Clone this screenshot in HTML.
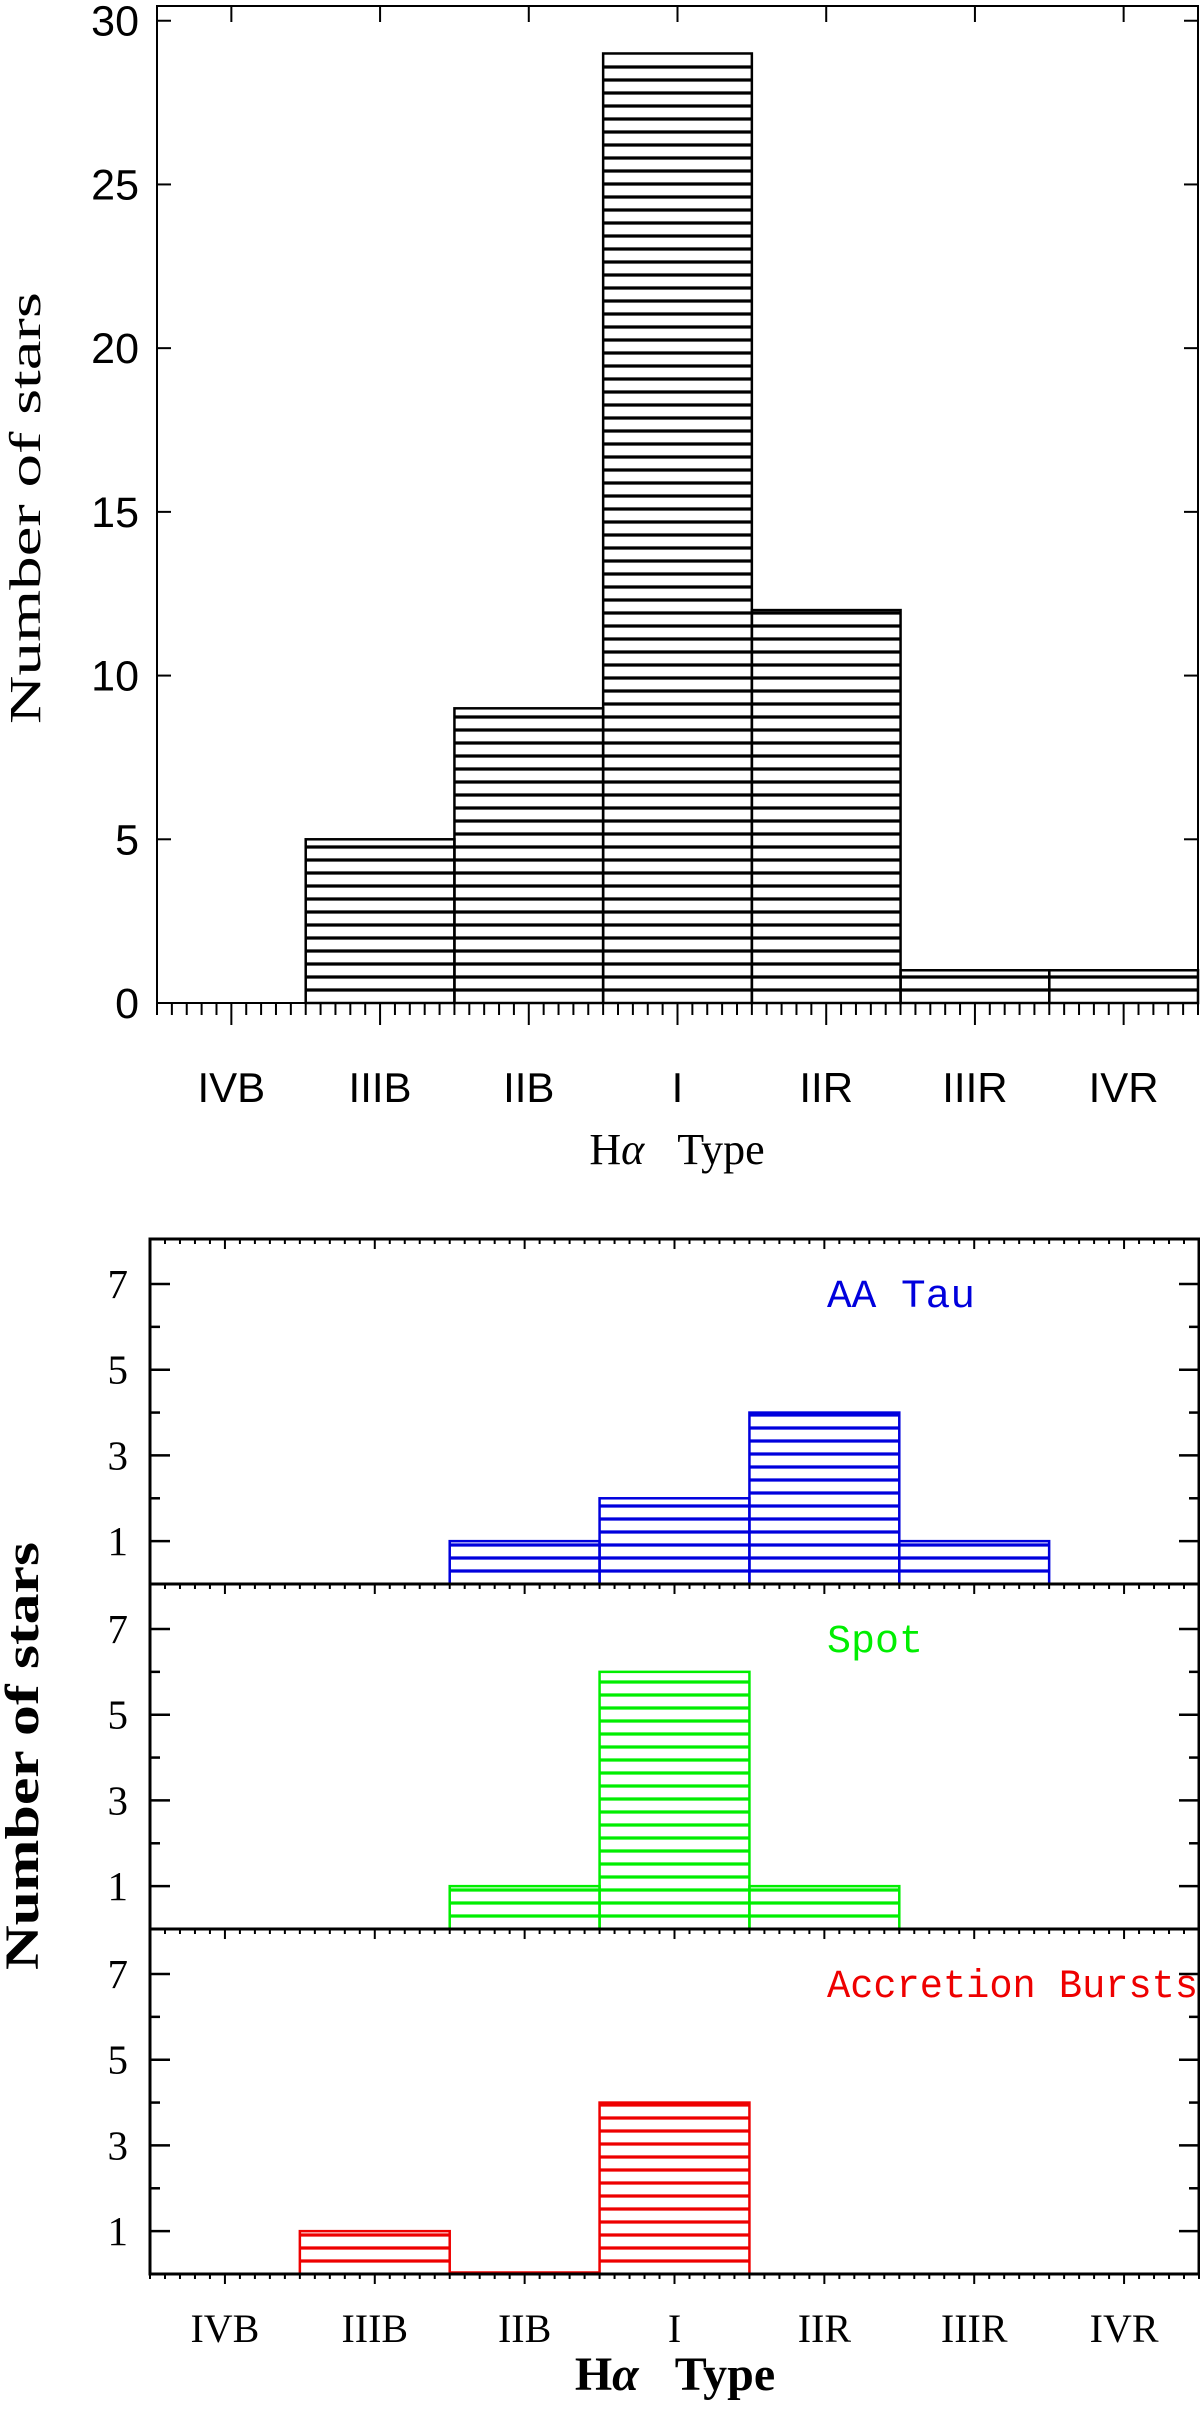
<!DOCTYPE html>
<html><head><meta charset="utf-8">
<style>
html,body{margin:0;padding:0;background:#fff;}
svg{display:block;}
</style></head>
<body>
<svg id="chart" width="1200" height="2415" viewBox="0 0 1200 2415" xmlns="http://www.w3.org/2000/svg"></svg>
<script>
const categories = ["IVB","IIIB","IIB","I","IIR","IIIR","IVR"];
const totalCounts = [0,5,9,29,12,1,1];
const aaTauCounts = [0,0,1,2,4,1,0];
const spotCounts = [0,0,1,6,1,0,0];
const burstCounts = [0,1,0,4,0,0,0];
const topYTicks = [0,5,10,15,20,25,30];
const panelYTicks = [1,3,5,7];
const panelMinorTicks = [2,4,6];

const svg = document.getElementById('chart');
const NS = 'http://www.w3.org/2000/svg';
function mk(tag, attrs, parent){
  const e = document.createElementNS(NS, tag);
  for (const k in attrs) e.setAttribute(k, attrs[k]);
  (parent||svg).appendChild(e);
  return e;
}

/* ---------- TOP PLOT ---------- */
const T = {x0:157, x1:1198, yTop:6, yBase:1003, yMin:0, yMax:30.45};
function tx(i){ return T.x0 + (T.x1-T.x0)*i/categories.length; }
function ty(v){ return T.yBase - (v-T.yMin)/(T.yMax-T.yMin)*(T.yBase-T.yTop); }
const gTop = mk('g',{});



totalCounts.forEach((v,i)=>{
  if (v<=0) return;
  const g = mk('g',{},gTop);
  
  
  const xa = tx(i), xb = tx(i+1), yt = ty(v);
  for (let y = T.yBase-13; y > yt+2; y -= 13) mk('line',{x1:xa,x2:xb,y1:y,y2:y,stroke:'#000','stroke-width':3.2},g);
  mk('rect',{x:xa,y:yt,width:xb-xa,height:T.yBase-yt,fill:'none',stroke:'#000','stroke-width':2.5},g);
});
const fr = mk('rect',{x:T.x0,y:T.yTop,width:T.x1-T.x0,height:T.yBase-T.yTop,fill:'none',stroke:'#000','stroke-width':2},gTop);


topYTicks.forEach(v=>{
  const y = ty(v);
  mk('line',{x1:T.x0,x2:T.x0+14,y1:y,y2:y,stroke:'#000','stroke-width':2},gTop);
  mk('line',{x1:T.x1,x2:T.x1-14,y1:y,y2:y,stroke:'#000','stroke-width':2},gTop);
  const t = mk('text',{x:T.x0-18,y:y+15,'text-anchor':'end','font-family':'Liberation Sans, sans-serif','font-size':43,fill:'#000'},gTop);
  t.textContent = v;
  
  
});
const bw = (T.x1-T.x0)/categories.length;
for (let k=0;k<=categories.length*10;k++){
  const x = T.x0 + bw*k/10;
  const major = (k%10)===5;
  mk('line',{x1:x,x2:x,y1:T.yBase,y2:T.yBase+(major?22:12),stroke:'#000','stroke-width':2},gTop);
  if (major) mk('line',{x1:x,x2:x,y1:T.yTop,y2:T.yTop+16,stroke:'#000','stroke-width':2},gTop);
}
categories.forEach((c,i)=>{
  const t = mk('text',{x:tx(i)+bw/2,y:1102,'text-anchor':'middle','font-family':'Liberation Sans, sans-serif','font-size':42,fill:'#000'},gTop);
  t.textContent = c;
  
  
});
let t1 = mk('text',{x:677,y:1164,'text-anchor':'middle','font-family':'Liberation Serif, serif','font-size':44,fill:'#000'},gTop);
t1.innerHTML = 'H<tspan font-style="italic">α</tspan>\u00a0\u00a0\u00a0Type';


let t2 = mk('text',{x:0,y:0,'text-anchor':'middle','font-family':'Liberation Serif, serif','font-size':44,fill:'#000',transform:'translate(40,508) rotate(-90)',textLength:432,lengthAdjust:'spacingAndGlyphs'},gTop);
t2.textContent = 'Number of stars';



/* ---------- LOWER PANELS ---------- */
const P = {x0:150, x1:1199, top:1239, h:345, yMax:8.05};
const panels = [
  {name:'aa-tau', label:'AA Tau', color:'#0000dd', data:aaTauCounts, len:148},
  {name:'spot', label:'Spot', color:'#00ee00', data:spotCounts, len:96},
  {name:'accretion-bursts', label:'Accretion Bursts', color:'#ee0000', data:burstCounts, len:371}
];
const pbw = (P.x1-P.x0)/categories.length;
function px(i){ return P.x0 + pbw*i; }
panels.forEach((p,pi)=>{
  const top = P.top + pi*P.h, base = top + P.h;
  function py(v){ return base - v/P.yMax*P.h; }
  const g = mk('g',{});
  
  
  p.data.forEach((v,i)=>{
    if (v<=0) return;
    const bg = mk('g',{},g);
    
    
    const xa = px(i), xb = px(i+1), yt = py(v);
    for (let y = base-13; y > yt+2; y -= 13) mk('line',{x1:xa,x2:xb,y1:y,y2:y,stroke:p.color,'stroke-width':3.2},bg);
    mk('rect',{x:xa,y:yt,width:xb-xa,height:base-yt,fill:'none',stroke:p.color,'stroke-width':2.5},bg);
  });
  if (p.name==='accretion-bursts'){
    p.data.forEach((v,i)=>{
      if (v===0 && i>0 && i<categories.length-1 && p.data[i-1]>0 && p.data[i+1]>0)
        mk('line',{x1:px(i),x2:px(i+1),y1:base-1.5,y2:base-1.5,stroke:p.color,'stroke-width':2.5},g);
    });
  }
  const f = mk('rect',{x:P.x0,y:top,width:P.x1-P.x0,height:P.h,fill:'none',stroke:'#000','stroke-width':3},g);
  
  
  panelYTicks.forEach(v=>{
    const y = py(v);
    mk('line',{x1:P.x0,x2:P.x0+20,y1:y,y2:y,stroke:'#000','stroke-width':2.5},g);
    mk('line',{x1:P.x1,x2:P.x1-20,y1:y,y2:y,stroke:'#000','stroke-width':2.5},g);
    const t = mk('text',{x:P.x0-22,y:y+14,'text-anchor':'end','font-family':'Liberation Serif, serif','font-size':41,fill:'#000'},g);
    t.textContent = v;
    
    
  });
  panelMinorTicks.forEach(v=>{
    const y = py(v);
    mk('line',{x1:P.x0,x2:P.x0+10,y1:y,y2:y,stroke:'#000','stroke-width':2.5},g);
    mk('line',{x1:P.x1,x2:P.x1-10,y1:y,y2:y,stroke:'#000','stroke-width':2.5},g);
  });
  for (let k=0;k<=categories.length*10;k++){
    const x = P.x0 + pbw*k/10;
    const major = (k%10)===5;
    mk('line',{x1:x,x2:x,y1:top,y2:top+(major?10:5),stroke:'#000','stroke-width':2},g);
    if (pi===2) mk('line',{x1:x,x2:x,y1:base,y2:base+(major?10:5),stroke:'#000','stroke-width':2},g);
  }
  const lt = mk('text',{x:827,y:top+68,'font-family':'Liberation Mono, monospace','font-size':40,fill:p.color,textLength:p.len,lengthAdjust:'spacingAndGlyphs'},g);
  lt.textContent = p.label;
  
  
});
categories.forEach((c,i)=>{
  const t = mk('text',{x:px(i)+pbw/2,y:2342,'text-anchor':'middle','font-family':'Liberation Serif, serif','font-size':40,fill:'#000'});
  t.textContent = c;
  
  
});
let t3 = mk('text',{x:675,y:2390,'text-anchor':'middle','font-family':'Liberation Serif, serif','font-size':48,'font-weight':'bold',fill:'#000'});
t3.innerHTML = 'H<tspan font-style="italic">α</tspan>\u00a0\u00a0\u00a0Type';


let t4 = mk('text',{x:0,y:0,'text-anchor':'middle','font-family':'Liberation Serif, serif','font-size':48,'font-weight':'bold',fill:'#000',transform:'translate(38,1756) rotate(-90)',textLength:428,lengthAdjust:'spacingAndGlyphs'});
t4.textContent = 'Number of stars';


</script>
</body></html>
